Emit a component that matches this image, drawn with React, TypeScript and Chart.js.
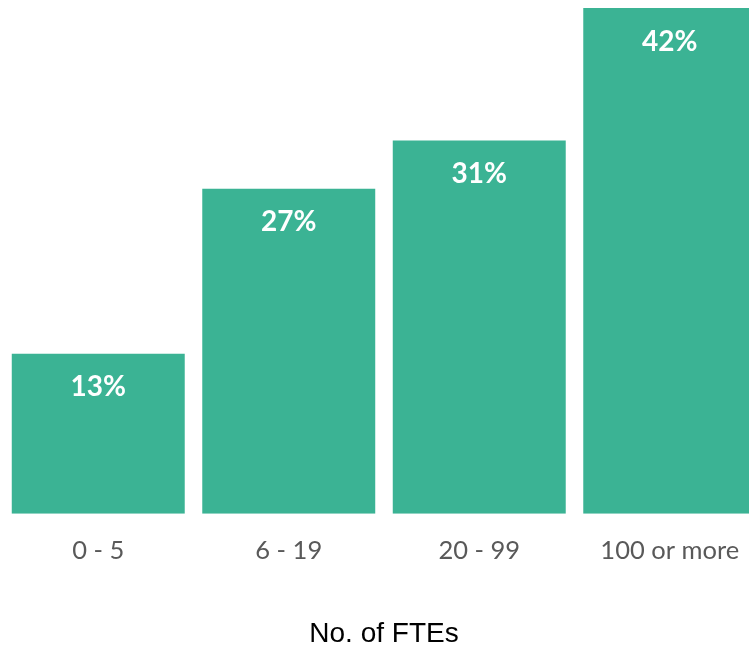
import React, { useEffect, useRef } from "react";
import { Chart, registerables } from "chart.js";

Chart.register(...registerables);

const categories = ["0 - 5", "6 - 19", "20 - 99", "100 or more"];
const values = [13.3, 27, 31, 42];
const xTitle = "No. of FTEs";
const barColor = "#3BB394";

const labelPlugin = {
  id: "barLabels",
  afterDatasetsDraw(chart: any) {
    const ctx = chart.ctx;
    const meta = chart.getDatasetMeta(0);
    ctx.save();
    ctx.fillStyle = "#ffffff";
    ctx.font = "bold 28px Lato";
    ctx.textAlign = "center";
    ctx.textBaseline = "middle";
    meta.data.forEach((bar: any, i: number) => {
      ctx.fillText(Math.round(values[i]) + "%", bar.x, bar.y + 33.5);
    });
    ctx.restore();
  },
};

export default function App() {
  const ref = useRef<HTMLCanvasElement>(null);
  useEffect(() => {
    document.body.style.margin = "0";
    document.body.style.overflow = "hidden";
    const chart = new Chart(ref.current!, {
      type: "bar",
      data: {
        labels: categories,
        datasets: [
          {
            data: values,
            backgroundColor: barColor,
            barPercentage: 0.908,
            categoryPercentage: 1,
          },
        ],
      },
      options: {
        animation: false,
        responsive: false,
        layout: { padding: { left: 3, right: 1, top: 8, bottom: 0 } },
        plugins: { legend: { display: false }, tooltip: { enabled: false } },
        scales: {
          y: { display: false, min: 0, max: 42 },
          x: {
            grid: { display: false, drawTicks: false },
            border: { display: false },
            ticks: {
              color: "#595959",
              font: { family: "Lato", size: 25.5 },
              padding: 22,
            },
            title: {
              display: true,
              text: xTitle,
              color: "#000000",
              font: { family: "Liberation Sans", size: 28 },
              padding: { top: 29, bottom: -5 },
            },
          },
        },
      },
      plugins: [labelPlugin],
    });
    return () => chart.destroy();
  }, []);
  return <canvas ref={ref} width={766} height={646} style={{ display: "block" }} />;
}
